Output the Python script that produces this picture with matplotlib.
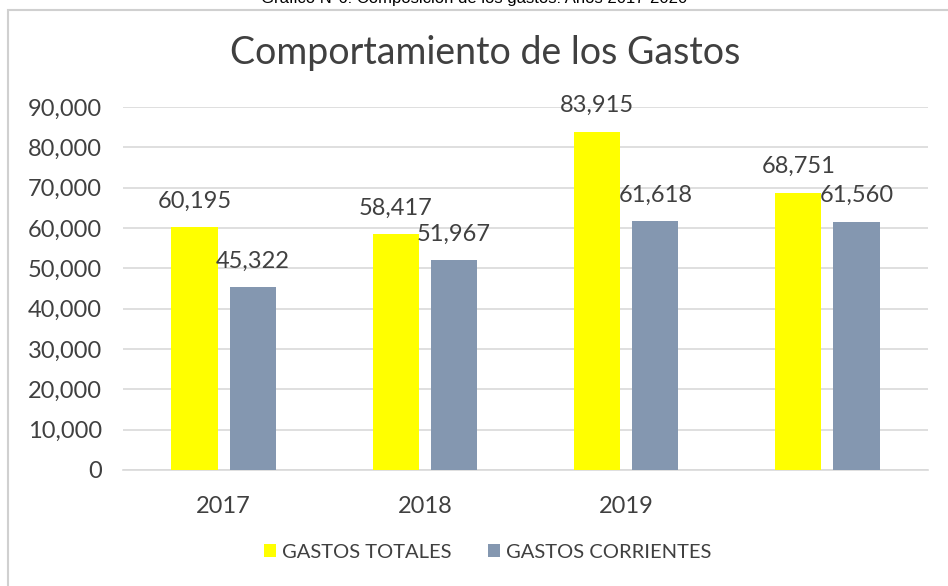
import matplotlib.pyplot as plt
import matplotlib.patches as mpatches
import numpy as np

# data
years = ["2017", "2018", "2019", ""]
gastos_totales = [60195, 58417, 83915, 68751]
gastos_corrientes = [45322, 51967, 61618, 61560]

plt.rcParams['font.family'] = ['Lato', 'DejaVu Sans']

fig = plt.figure(figsize=(9.48, 5.86), dpi=100)
ax = fig.add_axes([123 / 948, 1 - 470 / 586, (928 - 123) / 948, (470 - 107) / 586])

x = np.arange(len(years))
width = 0.23
off = 0.145

ax.bar(x - off, gastos_totales, width, color="#FFFF00", label="GASTOS TOTALES", zorder=3)
ax.bar(x + off, gastos_corrientes, width, color="#8497B0", label="GASTOS CORRIENTES", zorder=3)

# value labels
for i in range(len(years)):
    ax.text(x[i] - off, gastos_totales[i] + 3900, f"{gastos_totales[i]:,}", ha='center',
            va='bottom', fontsize=17, color="#404040")
    ax.text(x[i] + off, gastos_corrientes[i] + 3900, f"{gastos_corrientes[i]:,}", ha='center',
            va='bottom', fontsize=17, color="#404040")

ax.set_xlim(-0.5, len(years) - 0.5)
ax.set_ylim(0, 90000)
ax.set_yticks(np.arange(0, 90001, 10000))
ax.set_yticklabels([f"{v:,}" for v in range(0, 90001, 10000)], fontsize=17, color="#404040")
ax.set_xticks(x)
ax.set_xticklabels(years, fontsize=17, color="#404040")
ax.tick_params(length=0)
ax.tick_params(axis='y', pad=15)
ax.tick_params(axis='x', pad=19)

ax.grid(axis='y', color="#D9D9D9", linewidth=1.2, zorder=0)
for s in ["top", "right", "left"]:
    ax.spines[s].set_visible(False)
ax.spines["bottom"].set_color("#D9D9D9")
ax.spines["bottom"].set_linewidth(1.2)

# title
fig.text(485 / 948, 1 - 53 / 586, "Comportamiento de los Gastos", ha='center', va='center',
         fontsize=27, color="#404040")

# caption cut off at top (as in the source picture)
fig.text(474 / 948, 1 + 2 / 586, "Gráfico N°6: Composición de los gastos: Años 2017-2020",
         ha='center', va='center', fontsize=12, family='Liberation Sans', color="#000000")

# chart border
fig.patches.append(mpatches.Rectangle((8 / 948, -0.1), 2, 1.1 - 10 / 586, transform=fig.transFigure,
                                      fill=False, edgecolor="#D0D0D0", linewidth=1.5))

leg = fig.legend(loc='center', bbox_to_anchor=(488 / 948, 1 - 552 / 586), ncol=2, frameon=False,
                 fontsize=14.5, handlelength=0.6, handleheight=0.6, columnspacing=1.8,
                 handletextpad=0.3)
for t in leg.get_texts():
    t.set_color("#404040")

fig.savefig("out.png", dpi=100)
